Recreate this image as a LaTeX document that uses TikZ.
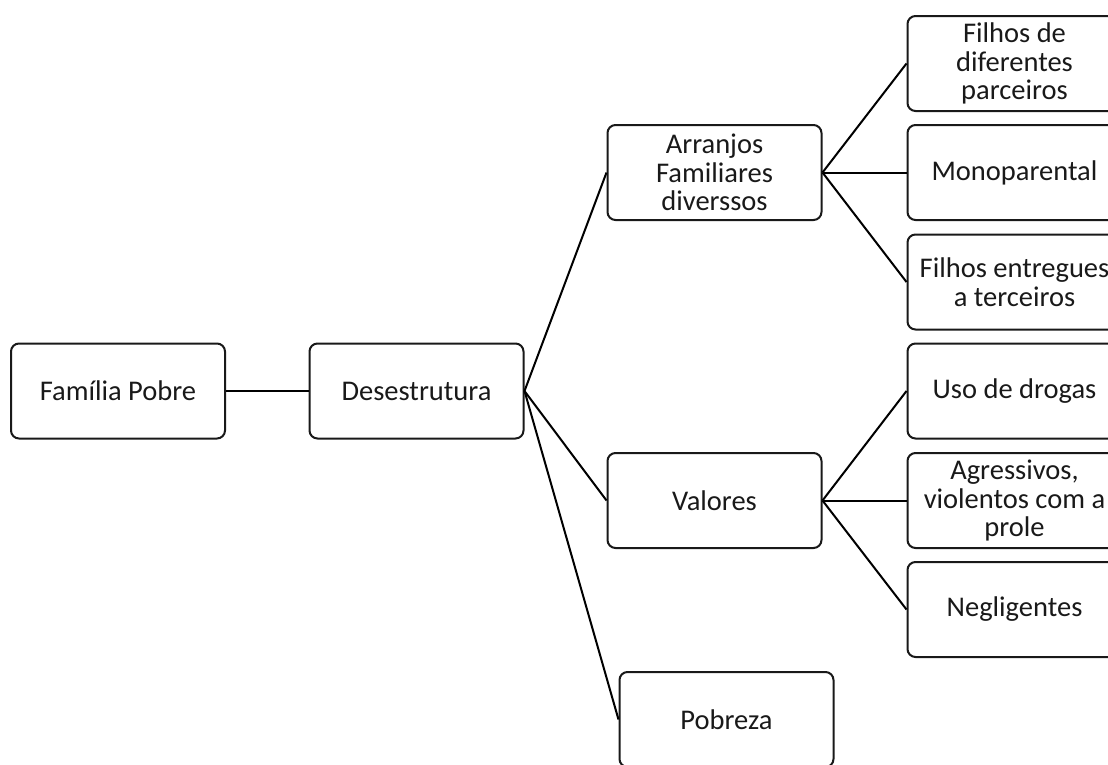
\documentclass[tikz,border=0pt]{standalone}
\usepackage{fontspec}
\setmainfont{Carlito}
\begin{document}
\begin{tikzpicture}[x=1pt, y=-1pt,
    caixa/.style={draw=black!90, line width=2pt, rounded corners=8pt,
      minimum width=214pt, minimum height=95pt, inner sep=0pt,
      align=center, text=black!90, font=\fontsize{28.5}{28.5}\selectfont},
    liga/.style={line width=2pt}]

  % recorte da figura
  \clip (0,0) rectangle (1108,764);

  % nivel 1 e 2
  \node[caixa] (fam) at (118,391) {Família Pobre};
  \node[caixa] (des) at (416.5,391) {Desestrutura};

  % nivel 3
  \node[caixa] (arr) at (714.5,172.5) {Arranjos\\Familiares\\diverssos};
  \node[caixa] (val) at (714.5,500.5) {Valores};
  \node[caixa] (pob) at (726.5,719.5) {Pobreza};

  % nivel 4 (caixas cortadas na margem direita)
  \node[caixa] (filhos) at (1014.5,63.5) {Filhos de\\diferentes\\parceiros};
  \node[caixa] (mono) at (1014.5,172.5) {Monoparental};
  \node[caixa] (entreg) at (1014.5,282) {Filhos entregues\\a terceiros};
  \node[caixa] (drogas) at (1014.5,391) {Uso de drogas};
  \node[caixa] (agress) at (1014.5,500.5) {Agressivos,\\violentos com a\\prole};
  \node[caixa] (neglig) at (1014.5,609.5) {Negligentes};

  % ligacoes
  \draw[liga] (fam.east) -- (des.west);
  \foreach \f in {arr,val,pob}
    \draw[liga] (des.east) -- (\f.west);
  \foreach \f in {filhos,mono,entreg}
    \draw[liga] (arr.east) -- (\f.west);
  \foreach \f in {drogas,agress,neglig}
    \draw[liga] (val.east) -- (\f.west);

\end{tikzpicture}
\end{document}
